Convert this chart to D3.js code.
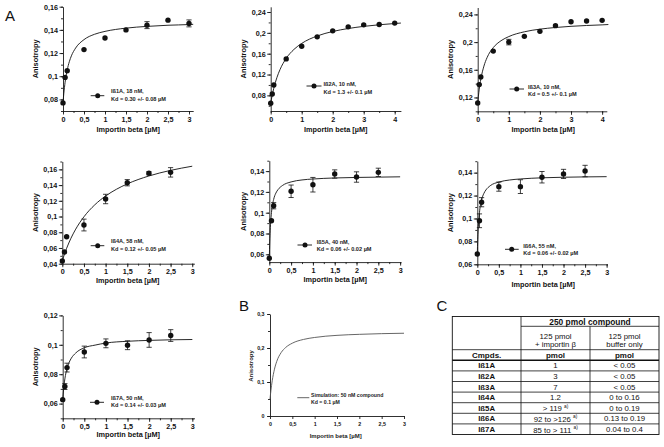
<!DOCTYPE html>
<html><head><meta charset="utf-8">
<script src="https://cdn.jsdelivr.net/npm/d3@7"></script>
<style>
html,body{margin:0;padding:0;background:#fff;}
svg{display:block;font-family:"Liberation Sans",Arial,Helvetica,sans-serif;}
</style></head><body>
<svg id="chart" width="664" height="447"></svg>
<script>
// ---------- DATA ----------
const conc3 = [0, 0.05, 0.1, 0.5, 1, 1.5, 2, 2.5, 3];
const conc4 = [0, 0.05, 0.1, 0.5, 1, 1.5, 2, 2.5, 3, 3.5, 4];
const conc25 = [0, 0.05, 0.1, 0.5, 1, 1.5, 2, 2.5];

const ib1A = [0.077, 0.099, 0.1047, 0.123, 0.133, 0.140, 0.1441, 0.1484, 0.1456];
const ib1AErr = [0, 0, 0, 0, 0, 0, 0.003, 0, 0.003];
const ib2A = [0.0648, 0.0827, 0.100, 0.150, 0.1744, 0.1923, 0.2038, 0.2115, 0.2154, 0.216, 0.2187];
const ib2AErr = [0, 0, 0, 0, 0, 0, 0, 0, 0, 0, 0];
const ib3A = [0.112, 0.1386, 0.1496, 0.187, 0.200, 0.2083, 0.2155, 0.2238, 0.2295, 0.2304, 0.2314];
const ib3AErr = [0, 0, 0, 0, 0.004, 0, 0, 0, 0, 0, 0];
const ib4A = [0.0434, 0.0549, 0.0743, 0.0892, 0.1223, 0.143, 0.155, 0.1562];
const ib4AErr = [0, 0, 0, 0.0075, 0.006, 0.004, 0.002, 0.006];
const ib5A = [0.0562, 0.0923, 0.1067, 0.1206, 0.1269, 0.1372, 0.1343, 0.1388];
const ib5AErr = [0, 0, 0.003, 0.006, 0.007, 0.004, 0.005, 0.004];
const ib6A = [0.069, 0.098, 0.1142, 0.1278, 0.1278, 0.136, 0.1389, 0.1414];
const ib6AErr = [0, 0.006, 0.004, 0.004, 0.006, 0.005, 0.004, 0.005];
const ib7A = [0.0627, 0.0716, 0.0845, 0.0951, 0.101, 0.0997, 0.1033, 0.1063];
const ib7AErr = [0, 0.002, 0.003, 0.004, 0.003, 0.003, 0.005, 0.004];

// fitted curves
const fitGrid1 = [0, 0.02, 0.05, 0.1, 0.15, 0.2, 0.3, 0.5, 0.75, 1, 1.5, 2, 2.5, 3, 3.1];
const fit1A = [0.077, 0.0854, 0.0948, 0.1054, 0.1125, 0.1176, 0.1243, 0.1316, 0.1362, 0.1387, 0.1415, 0.143, 0.144, 0.1446, 0.1448];
const fitGrid4 = [0, 0.02, 0.05, 0.1, 0.2, 0.3, 0.5, 0.75, 1, 1.5, 2, 2.5, 3, 3.5, 4, 4.2];
const fit2A = [0.065, 0.0716, 0.0806, 0.0937, 0.1141, 0.1295, 0.151, 0.1682, 0.1797, 0.194, 0.2026, 0.2083, 0.2124, 0.2155, 0.2179, 0.2188];
const fit3A = [0.112, 0.1209, 0.132, 0.1463, 0.1653, 0.1775, 0.192, 0.202, 0.208, 0.2149, 0.2187, 0.2211, 0.2228, 0.224, 0.2249, 0.2254];
const fitGridSlow = [0, 0.1, 0.2, 0.3, 0.5, 0.75, 1, 1.25, 1.5, 2, 2.5, 3];
const fit4A = [0.044, 0.0596, 0.0724, 0.083, 0.0997, 0.1149, 0.1261, 0.1347, 0.1415, 0.1516, 0.1587, 0.164];
const fitGridSteep = [0, 0.01, 0.02, 0.05, 0.1, 0.15, 0.2, 0.3, 0.5, 0.75, 1, 1.5, 2, 2.5, 3];
const fit5A = [0.056, 0.0719, 0.0825, 0.1002, 0.1128, 0.1188, 0.1222, 0.1261, 0.1296, 0.1315, 0.1324, 0.1334, 0.1339, 0.1342, 0.1345];
const fit6A = [0.069, 0.0815, 0.0901, 0.105, 0.1162, 0.1217, 0.1249, 0.1286, 0.1318, 0.1336, 0.1345, 0.1355, 0.136, 0.1363, 0.1365];
const fitGrid7 = [0, 0.02, 0.05, 0.1, 0.15, 0.2, 0.3, 0.5, 0.75, 1, 1.5, 2, 2.5, 3];
const fit7A = [0.0627, 0.0698, 0.0768, 0.0839, 0.0881, 0.0909, 0.0944, 0.098, 0.0998, 0.1012, 0.1024, 0.103, 0.1034, 0.1036];
const simGrid = [0, 0.02, 0.05, 0.1, 0.15, 0.25, 0.35, 0.5, 0.75, 1, 1.5, 2, 2.5, 3];
const simB = [0.05, 0.0744, 0.1036, 0.1377, 0.1602, 0.1866, 0.2014, 0.2142, 0.2252, 0.231, 0.2372, 0.2402, 0.2422, 0.2434];

const legendNames = ["Iß1A, 18 nM,", "Iß2A, 10 nM,", "Iß3A, 10 nM,", "Iß4A, 58 nM,", "Iß5A, 40 nM,", "Iß6A, 55 nM,", "Iß7A, 50 nM,"];
const legendKd = ["Kd = 0.30 +/- 0.08 µM", "Kd = 1.3 +/- 0.1 µM", "Kd = 0.5 +/- 0.1 µM", "Kd = 0.12 +/- 0.05 µM", "Kd = 0.06 +/- 0.02 µM", "Kd = 0.06 +/- 0.02 µM", "Kd = 0.14 +/- 0.03 µM"];
const simLegend = ["Simulation: 50 nM compound", "Kd = 0.1 µM"];

const xTitle = "Importin beta [µM]";
const yTitle = "Anisotropy";

// table C
const tableTitle = "250 pmol compound";
const tableColHead1 = ["125 pmol", "+ importin β"];
const tableColHead2 = ["125 pmol", "buffer only"];
const tableUnits = ["Cmpds.", "pmol", "pmol"];
const tableCompounds = ["Iß1A", "Iß2A", "Iß3A", "Iß4A", "Iß5A", "Iß6A", "Iß7A"];
const tableWithImportin = ["1", "3", "7", "1.2", "> 119", "92 to >126", "85 to > 111"];
const tableFootnote = ["", "", "", "", "a)", "a)", "a)"];
const tableBufferOnly = ["< 0.05", "< 0.05", "< 0.05", "0 to 0.16", "0 to 0.19", "0.13 to 0.19", "0.04 to 0.4"];

// ---------- LAYOUT ----------
const step = (a, b, s) => d3.range(Math.round((b - a) / s) + 1).map(i => +(a + i * s).toFixed(4));
const panels = [
  {x: conc3, y: ib1A, e: ib1AErr, fx: fitGrid1, fy: fit1A, xDom: [0, 3.1], xRng: [63, 193.2], yDom: [0.07, 0.16], yRng: [111, 6.7],
   xMaj: step(0, 3, 0.5), xMin: step(0, 3, 0.25), yMaj: step(0.08, 0.16, 0.02), yMin: step(0.07, 0.16, 0.01),
   ylx: 35, xly: 132, xlx: 128.3, leg: {mx: 97.7, my: 95.7, l1: 90.7, l2: 104.3, tx: 111, t1: 91, t2: 99}},
  {x: conc4, y: ib2A, e: ib2AErr, fx: fitGrid4, fy: fit2A, xDom: [0, 4.2], xRng: [270.7, 400.9], yDom: [0.05, 0.25], yRng: [111, 6.8],
   xMaj: step(0, 4, 1), xMin: step(0, 4, 0.5), yMaj: step(0.08, 0.24, 0.04), yMin: step(0.06, 0.24, 0.02),
   ylx: 243.3, xly: 131.5, xlx: 335.7, leg: {mx: 314, my: 86, l1: 306.5, l2: 321.5, tx: 323.5, t1: 84, t2: 91.5}},
  {x: conc4, y: ib3A, e: ib3AErr, fx: fitGrid4, fy: fit3A, xDom: [0, 4.15], xRng: [477.7, 606.8], yDom: [0.1, 0.25], yRng: [111.3, 7.5],
   xMaj: step(0, 4, 1), xMin: step(0, 4, 0.5), yMaj: step(0.12, 0.24, 0.04), yMin: step(0.1, 0.24, 0.02),
   ylx: 450, xly: 131.5, xlx: 543.3, leg: {mx: 516.7, my: 89, l1: 509.5, l2: 524, tx: 528, t1: 86.5, t2: 93.5}},
  {x: conc25, y: ib4A, e: ib4AErr, fx: fitGridSlow, fy: fit4A, xDom: [0, 3.05], xRng: [62.3, 194.4], yDom: [0.04, 0.17], yRng: [263.7, 161.5],
   xMaj: step(0, 3, 0.5), xMin: step(0, 3, 0.25), yMaj: step(0.04, 0.16, 0.02), yMin: step(0.04, 0.17, 0.01),
   ylx: 35, xly: 283, xlx: 127.7, leg: {mx: 97.7, my: 245.7, l1: 90.7, l2: 104.3, tx: 111, t1: 241, t2: 249}},
  {x: conc25, y: ib5A, e: ib5AErr, fx: fitGridSteep, fy: fit5A, xDom: [0, 3.02], xRng: [269.3, 401], yDom: [0.0525, 0.15], yRng: [262.1, 160.7],
   xMaj: step(0, 3, 0.5), xMin: step(0, 3, 0.25), yMaj: step(0.06, 0.14, 0.02), yMin: step(0.06, 0.15, 0.01),
   ylx: 243.7, xly: 281.5, xlx: 335.3, leg: {mx: 305, my: 245, l1: 297.5, l2: 312, tx: 316.7, t1: 241.5, t2: 248.5}},
  {x: conc25, y: ib6A, e: ib6AErr, fx: fitGridSteep, fy: fit6A, xDom: [0, 3.02], xRng: [477.3, 607.5], yDom: [0.06, 0.15], yRng: [264.3, 161.2],
   xMaj: step(0, 3, 0.5), xMin: step(0, 3, 0.25), yMaj: step(0.06, 0.14, 0.02), yMin: step(0.06, 0.15, 0.01),
   ylx: 450, xly: 287, xlx: 543.3, leg: {mx: 511.7, my: 249.3, l1: 505, l2: 518.7, tx: 523.3, t1: 245.5, t2: 252.5}},
  {x: conc25, y: ib7A, e: ib7AErr, fx: fitGrid7, fy: fit7A, xDom: [0, 3.05], xRng: [62.7, 194.5], yDom: [0.05, 0.12], yRng: [418.3, 315.4],
   xMaj: step(0, 3, 0.5), xMin: step(0, 3, 0.25), yMaj: step(0.06, 0.12, 0.02), yMin: step(0.05, 0.12, 0.01),
   ylx: 35, xly: 437, xlx: 128.3, leg: {mx: 97, my: 402.3, l1: 90, l2: 104, tx: 111, t1: 397.5, t2: 405}}
];

const svg = d3.select("#chart");
const FONT = '"Liberation Sans",Arial,Helvetica,sans-serif';
const fmt = v => String(+v.toFixed(3)).replace(".", ",");
const AX = "#1a1a1a";

function axes(g, x, y, o) {
  const y0 = o.yRng[0], x0 = x(o.xDom[0]);
  // minor
  g.append("g").attr("transform", `translate(0,${y0})`)
    .call(d3.axisBottom(x).tickValues(o.xMin).tickSize(o.minorLen).tickSizeOuter(0).tickFormat(""))
    .call(s => s.select(".domain").remove());
  g.append("g").attr("transform", `translate(${x0},0)`)
    .call(d3.axisLeft(y).tickValues(o.yMin).tickSize(o.minorLen).tickSizeOuter(0).tickFormat(""))
    .call(s => s.select(".domain").remove());
  // major
  const gx = g.append("g").attr("transform", `translate(0,${y0})`)
    .call(d3.axisBottom(x).tickValues(o.xMaj).tickSize(o.majorLen).tickSizeOuter(0).tickPadding(o.pad).tickFormat(fmt));
  const gy = g.append("g").attr("transform", `translate(${x0},0)`)
    .call(d3.axisLeft(y).tickValues(o.yMaj).tickSize(o.majorLen).tickSizeOuter(0).tickPadding(o.pad - 0.5).tickFormat(fmt));
  [gx, gy].forEach(s => {
    s.attr("font-family", FONT).attr("font-size", o.fs).attr("font-weight", "bold");
    s.selectAll("text").attr("fill", "#111");
  });
  g.selectAll(".domain, .tick line").attr("stroke", AX).attr("stroke-width", 0.9);
}

panels.forEach((p, i) => {
  const g = svg.append("g");
  const x = d3.scaleLinear().domain(p.xDom).range(p.xRng);
  const y = d3.scaleLinear().domain(p.yDom).range(p.yRng);
  axes(g, x, y, Object.assign({minorLen: 2, majorLen: 3.5, pad: 2, fs: 7.2}, p));
  // titles
  g.append("text").attr("x", p.xlx).attr("y", p.xly).attr("text-anchor", "middle")
    .attr("font-size", 7.3).attr("font-weight", "bold").attr("font-family", FONT).attr("fill", "#111").text(xTitle);
  const yc = (p.yRng[0] + p.yRng[1]) / 2;
  g.append("text").attr("transform", `translate(${p.ylx},${yc}) rotate(-90)`).attr("text-anchor", "middle")
    .attr("dominant-baseline", "central")
    .attr("font-size", 7.4).attr("font-weight", "bold").attr("font-family", FONT).attr("fill", "#111").text(yTitle);
  // fit curve
  const line = d3.line().x(d => x(d[0])).y(d => y(d[1])).curve(d3.curveMonotoneX);
  g.append("path").attr("d", line(d3.zip(p.fx, p.fy))).attr("fill", "none").attr("stroke", "#111").attr("stroke-width", 0.9);
  // error bars
  const pts = d3.zip(p.x, p.y, p.e);
  const eb = g.append("g").attr("stroke", "#111").attr("stroke-width", 0.8);
  pts.filter(d => d[2] > 0).forEach(d => {
    const cx = x(d[0]), ya = y(d[1] - d[2]), yb = y(d[1] + d[2]);
    eb.append("line").attr("x1", cx).attr("x2", cx).attr("y1", ya).attr("y2", yb);
    eb.append("line").attr("x1", cx - 2.6).attr("x2", cx + 2.6).attr("y1", ya).attr("y2", ya);
    eb.append("line").attr("x1", cx - 2.6).attr("x2", cx + 2.6).attr("y1", yb).attr("y2", yb);
  });
  g.selectAll("circle.pt").data(pts).join("circle").attr("class", "pt")
    .attr("cx", d => x(d[0])).attr("cy", d => y(d[1])).attr("r", 2.7).attr("fill", "#111");
  // legend
  const L = p.leg;
  g.append("line").attr("x1", L.l1).attr("x2", L.l2).attr("y1", L.my).attr("y2", L.my).attr("stroke", "#111").attr("stroke-width", 0.9);
  g.append("circle").attr("cx", L.mx).attr("cy", L.my).attr("r", 2.5).attr("fill", "#111");
  [[legendNames[i], L.t1], [legendKd[i], L.t2]].forEach(([t, ty]) => {
    g.append("text").attr("x", L.tx).attr("y", ty).attr("dominant-baseline", "central")
      .attr("font-size", 5.6).attr("font-weight", "bold").attr("font-family", FONT).attr("fill", "#222").text(t);
  });
});

// ---------- PANEL B ----------
{
  const g = svg.append("g");
  const x = d3.scaleLinear().domain([0, 3]).range([270, 404]);
  const y = d3.scaleLinear().domain([0, 0.3]).range([416, 314]);
  axes(g, x, y, {xDom: [0, 3], yRng: [416, 314], xMaj: step(0, 3, 0.5), xMin: [], yMaj: step(0, 0.3, 0.1), yMin: step(0, 0.3, 0.05),
    minorLen: 2, majorLen: 3, pad: 3, fs: 5.3});
  g.append("text").attr("x", 335.7).attr("y", 437.5).attr("text-anchor", "middle")
    .attr("font-size", 6).attr("font-weight", "bold").attr("font-family", FONT).attr("fill", "#222").text(xTitle);
  g.append("text").attr("transform", `translate(250.7,366) rotate(-90)`).attr("text-anchor", "middle").attr("dominant-baseline", "central")
    .attr("font-size", 6).attr("font-weight", "bold").attr("font-family", FONT).attr("fill", "#222").text(yTitle);
  const line = d3.line().x(d => x(d[0])).y(d => y(d[1])).curve(d3.curveMonotoneX);
  g.append("path").attr("d", line(d3.zip(simGrid, simB))).attr("fill", "none").attr("stroke", "#555").attr("stroke-width", 0.9);
  g.append("line").attr("x1", 297.3).attr("x2", 309.3).attr("y1", 397.7).attr("y2", 397.7).attr("stroke", "#555").attr("stroke-width", 0.9);
  [[simLegend[0], 395], [simLegend[1], 401.5]].forEach(([t, ty]) => {
    g.append("text").attr("x", 311).attr("y", ty).attr("dominant-baseline", "central")
      .attr("font-size", 5.2).attr("font-weight", "bold").attr("font-family", FONT).attr("fill", "#222").text(t);
  });
}

// ---------- PANEL LETTERS ----------
[["A", 5, 20.5], ["B", 239, 310.7], ["C", 436.5, 310.7]].forEach(([t, lx, ly]) => {
  svg.append("text").attr("x", lx).attr("y", ly).attr("font-size", 15).attr("font-family", FONT).attr("fill", "#111").text(t);
});

// ---------- TABLE C ----------
{
  const g = svg.append("g").attr("font-family", FONT).attr("fill", "#111");
  const cx = [452.3, 521, 590, 659];
  const top = 316.5, h1 = 326.3, h2 = 349.7, h3 = 360.3, bottom = 434.5;
  const rowH = (bottom - h3) / tableCompounds.length;
  const ln = (x1, y1, x2, y2, w) => g.append("line").attr("x1", x1).attr("y1", y1).attr("x2", x2).attr("y2", y2)
    .attr("stroke", "#111").attr("stroke-width", w || 0.8);
  g.append("rect").attr("x", cx[0]).attr("y", top).attr("width", cx[3] - cx[0]).attr("height", bottom - top)
    .attr("fill", "none").attr("stroke", "#111").attr("stroke-width", 0.9);
  ln(cx[1], top, cx[1], bottom);
  ln(cx[2], h1, cx[2], bottom);
  ln(cx[1], h1, cx[3], h1);
  ln(cx[0], h2, cx[3], h2);
  ln(cx[0], h3, cx[3], h3, 1.5);
  tableCompounds.forEach((c, i) => { if (i > 0) ln(cx[0], h3 + i * rowH, cx[3], h3 + i * rowH); });
  const txt = (t, x, y, size, bold) => g.append("text").attr("x", x).attr("y", y).attr("text-anchor", "middle")
    .attr("dominant-baseline", "central").attr("font-size", size).attr("font-weight", bold ? "bold" : "normal").text(t);
  const c1 = (cx[1] + cx[2]) / 2, c2 = (cx[2] + cx[3]) / 2, c0 = (cx[0] + cx[1]) / 2;
  txt(tableTitle, (cx[1] + cx[3]) / 2, 321.6, 8.4, true);
  txt(tableColHead1[0], c1, 336.8, 7.8, false);
  txt(tableColHead1[1], c1, 344.8, 7.8, false);
  txt(tableColHead2[0], c2, 336.8, 7.8, false);
  txt(tableColHead2[1], c2, 344.8, 7.8, false);
  txt(tableUnits[0], c0, 355.2, 8, true);
  txt(tableUnits[1], c1, 355.2, 8, true);
  txt(tableUnits[2], c2, 355.2, 8, true);
  tableCompounds.forEach((c, i) => {
    const yy = h3 + (i + 0.5) * rowH + 0.3;
    txt(c, c0, yy, 7.8, true);
    const t = txt(tableWithImportin[i], c1, yy, 7.8, false);
    if (tableFootnote[i]) {
      t.text(null);
      t.append("tspan").text(tableWithImportin[i] + " ");
      t.append("tspan").attr("font-size", 4.8).attr("dy", -2.5).text(tableFootnote[i]);
    }
    txt(tableBufferOnly[i], c2, yy, 7.8, false);
  });
}
</script>
</body></html>
